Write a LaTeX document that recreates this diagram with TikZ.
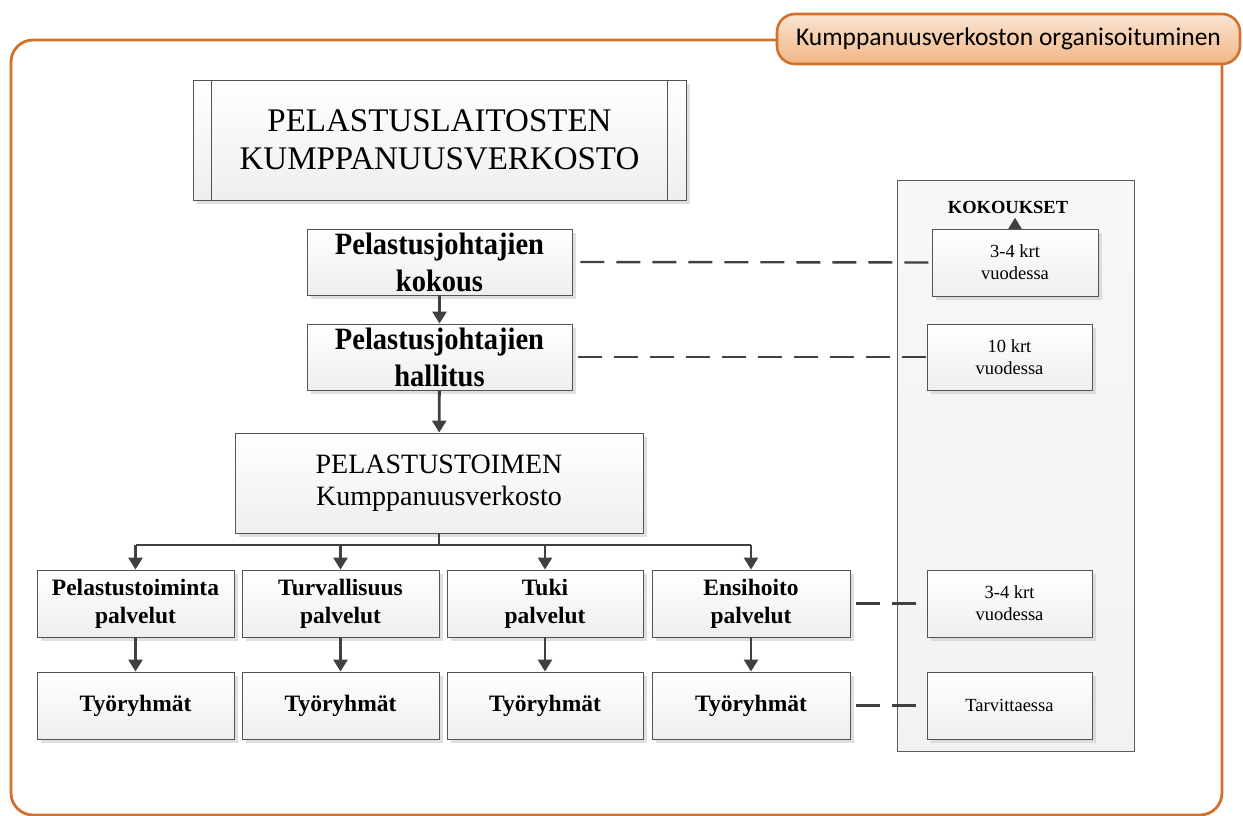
\documentclass[tikz,border=0pt]{standalone}
\usepackage{fontspec}
\setmainfont{Liberation Serif}
\newfontfamily\calfont{Carlito}
\newfontfamily\condfont[FakeStretch=0.92]{Liberation Serif}
\usetikzlibrary{arrows.meta,shadows}
\definecolor{frameor}{HTML}{D2712B}
\definecolor{badgetop}{HTML}{FBE4D2}
\definecolor{badgebot}{HTML}{F1B685}
\definecolor{darkline}{HTML}{404040}
\tikzset{
  boxst/.style={draw=darkline!90, line width=0.9pt, top color=white, bottom color=gray!13,
    align=center, inner sep=1pt,
    drop shadow={shadow xshift=4pt, shadow yshift=-4pt, fill=gray!35, opacity=0.7}},
  bigtxt/.style={font=\fontsize{33}{38}\selectfont},
  boldtxt/.style={font=\condfont\fontsize{31}{37}\selectfont\bfseries},
  midtxt/.style={font=\fontsize{28}{32}\selectfont},
  svctxt/.style={font=\fontsize{23.5}{28}\selectfont\bfseries},
  smalltxt/.style={font=\fontsize{18.5}{22}\selectfont},
  arr/.style={draw=darkline, line width=2.8pt, -{Triangle[length=12pt,width=14pt]}},
  plainln/.style={draw=darkline, line width=2.8pt},
  dashln/.style={draw=darkline, line width=2.4pt, dash pattern=on 24pt off 12pt},
}
\begin{document}
\begin{tikzpicture}[x=1pt,y=-1pt]
\useasboundingbox (0,0) rectangle (1243,815);
% frame
\draw[frameor, line width=2.8pt, rounded corners=22pt] (11,40) rectangle (1222,815);
% badge
\node[draw=frameor, line width=2.6pt, rounded corners=18pt, top color=badgetop, bottom color=badgebot,
  minimum width=463pt, minimum height=50pt, inner sep=0pt,
  font=\calfont\fontsize{25.5}{28}\selectfont] (badge) at (1008.5,39) {Kumppanuusverkoston organisoituminen};
% right panel
\node[draw=gray!70!black, line width=0.9pt, top color=gray!6, bottom color=gray!10,
  minimum width=237pt, minimum height=571pt, inner sep=0pt] (panel) at (1015.5,465.5) {};
\node[font=\fontsize{18.5}{20}\selectfont\bfseries] (kok) at (1008,207) {KOKOUKSET};
% top box
\node[boxst, bigtxt, minimum width=493pt, minimum height=120pt] (top) at (439.5,140) {PELASTUSLAITOSTEN\\KUMPPANUUSVERKOSTO};
\draw[darkline!90, line width=0.9pt] ([xshift=19pt]top.north west) -- ([xshift=19pt]top.south west);
\draw[darkline!90, line width=0.9pt] ([xshift=-19pt]top.north east) -- ([xshift=-19pt]top.south east);
% chain
\node[boxst, boldtxt, minimum width=265pt, minimum height=66pt] (pjk) at (439.5,262) {Pelastusjohtajien\\kokous};
\node[boxst, boldtxt, minimum width=265pt, minimum height=66pt] (pjh) at (439.5,357) {Pelastusjohtajien\\hallitus};
\node[boxst, midtxt, minimum width=408pt, minimum height=100pt] (pt) at (439,483) {PELASTUSTOIMEN\\Kumppanuusverkosto};
% services
\node[boxst, svctxt, minimum width=197pt, minimum height=67pt] (s1) at (135.5,603.5) {Pelastustoiminta\\palvelut};
\node[boxst, svctxt, minimum width=197pt, minimum height=67pt] (s2) at (340.5,603.5) {Turvallisuus\\palvelut};
\node[boxst, svctxt, minimum width=196pt, minimum height=67pt] (s3) at (545,603.5) {Tuki\\palvelut};
\node[boxst, svctxt, minimum width=198pt, minimum height=67pt] (s4) at (751,603.5) {Ensihoito\\palvelut};
\node[boxst, svctxt, minimum width=197pt, minimum height=67pt] (t1) at (135.5,705.5) {Työryhmät};
\node[boxst, svctxt, minimum width=197pt, minimum height=67pt] (t2) at (340.5,705.5) {Työryhmät};
\node[boxst, svctxt, minimum width=196pt, minimum height=67pt] (t3) at (545,705.5) {Työryhmät};
\node[boxst, svctxt, minimum width=198pt, minimum height=67pt] (t4) at (751,705.5) {Työryhmät};
% meeting boxes
\node[boxst, smalltxt, minimum width=166pt, minimum height=67pt] (k1) at (1015,262.5) {3-4 krt\\vuodessa};
\node[boxst, smalltxt, minimum width=165pt, minimum height=66pt] (k2) at (1009.5,357) {10 krt\\vuodessa};
\node[boxst, smalltxt, minimum width=165pt, minimum height=67pt] (k3) at (1009.5,603.5) {3-4 krt\\vuodessa};
\node[boxst, smalltxt, minimum width=165pt, minimum height=67pt] (k4) at (1009.5,705.5) {Tarvittaessa};
% connectors
\draw[arr] (pjk) -- (pjh);
\draw[arr] (pjh) -- (pt);
\coordinate (bus) at (439,545);
\draw[plainln] (pt.south) -- (bus);
\draw[plainln] (s1.north |- bus) -- (s4.north |- bus);
\foreach \s in {s1,s2,s3,s4} \draw[arr] (\s.north |- bus) -- (\s.north);
\draw[arr] (s1) -- (t1);
\draw[arr] (s2) -- (t2);
\draw[arr] (s3) -- (t3);
\draw[arr] (s4) -- (t4);
\draw[draw=darkline, line width=1.2pt, -{Triangle[length=11pt,width=13pt]}] (k1.north) -- ([yshift=-1pt]kok.south -| k1.north);
\draw[dashln] ([xshift=8pt]pjk.east) -- (k1.west);
\draw[dashln] ([xshift=6pt]pjh.east) -- (k2.west);
\draw[dashln] ([xshift=6pt]s4.east) -- (k3.west);
\draw[dashln] ([xshift=6pt]t4.east) -- (k4.west);
\end{tikzpicture}
\end{document}
